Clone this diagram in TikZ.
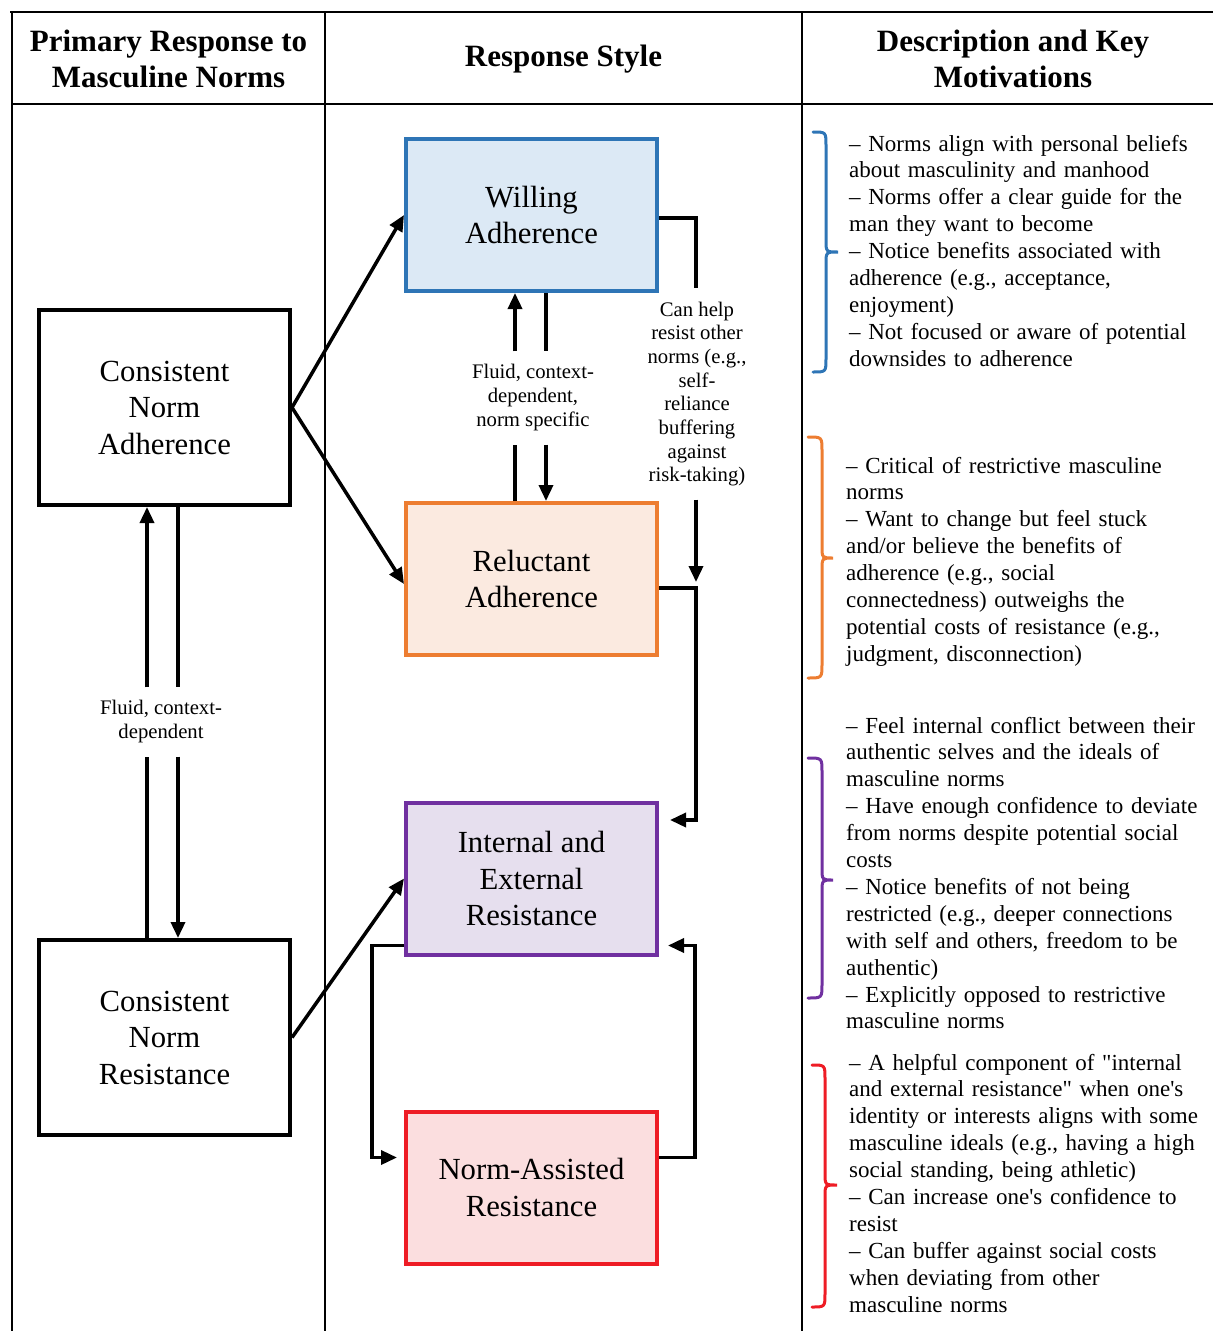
\documentclass[tikz,border=0pt]{standalone}
\usepackage{fontspec}
\setmainfont{Liberation Serif}
\usetikzlibrary{arrows.meta,calc}
\definecolor{wblue}{HTML}{2E75B6}
\definecolor{wbluefill}{HTML}{DCE9F5}
\definecolor{worange}{HTML}{ED7D31}
\definecolor{worangefill}{HTML}{FBEAE0}
\definecolor{wpurple}{HTML}{7030A0}
\definecolor{wpurplefill}{HTML}{E6DFEE}
\definecolor{wred}{HTML}{EE1C25}
\definecolor{wredfill}{HTML}{FBDEDF}
\newcommand{\curlybrace}[7]{% color, xend, xspine, xtip, ytop, ymid, ybot
  \draw[#1, line width=3pt, line cap=round]
    (#2,#5) .. controls (#3,#5) .. (#3,#5+14) -- (#3,#6-12)
    .. controls (#3,#6) .. (#4,#6) .. controls (#3,#6) .. (#3,#6+12)
    -- (#3,#7-14) .. controls (#3,#7) .. (#2,#7);}
\tikzset{
  tline/.style={line width=1.6pt, black},
  headtext/.style={align=center, inner sep=0, font=\fontsize{31}{36}\selectfont\bfseries},
  blackbox/.style={draw=black, line width=4pt, minimum width=251pt, minimum height=195pt,
    align=center, inner sep=0, font=\fontsize{30.7}{36.5}\selectfont},
  stylebox/.style={line width=4pt, minimum width=251pt, minimum height=152pt,
    align=center, inner sep=0, font=\fontsize{30.7}{36.5}\selectfont},
  smalllabel/.style={align=center, inner xsep=0, inner ysep=13pt, font=\fontsize{20.7}{24}\selectfont},
  desc/.style={anchor=base west, text width=370pt, align=left, inner sep=0,
    font=\fontsize{23}{26.9}\selectfont},
  conn/.style={line width=3.5pt, black},
  arr/.style={conn, -{Triangle[length=16pt,width=14pt]}},
}
\begin{document}
\begin{tikzpicture}[x=1pt,y=-1pt]
\useasboundingbox (0,0) rectangle (1213,1331);
% table
\draw[tline] (10,12) -- (1213,12);
\draw[tline] (12,104) -- (1213,104);
\draw[tline] (12,12) -- (12,1331);
\draw[tline] (325,12) -- (325,1331);
\draw[tline] (802,12) -- (802,1331);
% headers
\node[headtext] (h1) at (168.5,59) {Primary Response to\\Masculine Norms};
\node[headtext] (h2) at (563.5,59) {Response Style};
\node[headtext] (h3) at (1013,59) {Description and Key\\Motivations};
% boxes
\node[blackbox] (cna) at (164.5,407.5) {Consistent\\Norm\\Adherence};
\node[blackbox] (cnr) at (164.5,1037.5) {Consistent\\Norm\\Resistance};
\node[stylebox, draw=wblue, fill=wbluefill] (wa) at (531.5,215) {Willing\\Adherence};
\node[stylebox, draw=worange, fill=worangefill] (ra) at (531.5,579) {Reluctant\\Adherence};
\node[stylebox, draw=wpurple, fill=wpurplefill] (ier) at (531.5,878.5) {Internal and\\External\\Resistance};
\node[stylebox, draw=wred, fill=wredfill] (nar) at (531.5,1187.5) {Norm-Assisted\\Resistance};
% labels
\node[smalllabel] (lbl1) at (161,722) {Fluid, context-\\dependent};
\node[smalllabel] (lbl2) at (533,398) {Fluid, context-\\dependent,\\norm specific};
\node[smalllabel, font=\fontsize{20.7}{23.7}\selectfont] (lbl3) at (697,394) {Can help\\resist other\\norms (e.g.,\\self-\\reliance\\buffering\\against\\risk-taking)};
% helper coordinates
\coordinate (l1) at (147,0);
\coordinate (l2) at (178,0);
\coordinate (m1) at (515,0);
\coordinate (m2) at (546,0);
\coordinate (c1) at (696,0);
\coordinate (c2) at (670,820);
% diagonal arrows
\draw[arr] (cna.east) -- (wa.west);
\draw[arr] (cna.east) -- ([yshift=-5pt]ra.west);
\draw[arr] (cnr.east) -- (ier.west);
% CNA <-> CNR
\draw[conn] (cnr.north -| l1) -- (lbl1.south -| l1);
\draw[arr] (lbl1.north -| l1) -- (cna.south -| l1);
\draw[conn] (cna.south -| l2) -- (lbl1.north -| l2);
\draw[arr] (lbl1.south -| l2) -- (cnr.north -| l2);
% WA <-> RA
\draw[conn] (ra.north -| m1) -- (lbl2.south -| m1);
\draw[arr] (lbl2.north -| m1) -- (wa.south -| m1);
\draw[conn] (wa.south -| m2) -- (lbl2.north -| m2);
\draw[arr] (lbl2.south -| m2) -- (ra.north -| m2);
% WA -> right side
\draw[conn] ([yshift=-3pt]wa.east) -| (lbl3.north -| c1);
\draw[arr, shorten >=6pt] (lbl3.south -| c1) -- ([yshift=-9pt]ra.east -| c1);
% RA -> IER
\draw[arr] ([yshift=-9pt]ra.east) -- ([yshift=-9pt]ra.east -| c1) |- (c2);
% IER <-> NAR
\draw[arr, shorten >=7pt] ([yshift=11pt]ier.south west) -- ++(-32,0) |- ([yshift=30pt]nar.west);
\draw[arr, shorten >=9pt] ([yshift=30pt]nar.east) -- ++(36,0) |- ([yshift=11pt]ier.south east);
% braces
\curlybrace{wblue}{813}{826}{838}{132}{252}{372}
\curlybrace{worange}{808}{822}{833}{437}{558}{678}
\curlybrace{wpurple}{808}{822}{833}{758}{880}{998}
\curlybrace{wred}{812}{825}{837}{1065}{1185}{1307}
% descriptions
\node[desc] (d1) at (849,151) {– Norms align with personal beliefs\\about masculinity and manhood\\– Norms offer a clear guide for the\\man they want to become\\– Notice benefits associated with\\adherence (e.g., acceptance,\\enjoyment)\\– Not focused or aware of potential\\downsides to adherence};
\node[desc] (d2) at (846,473) {– Critical of restrictive masculine\\norms\\– Want to change but feel stuck\\and/or believe the benefits of\\adherence (e.g., social\\connectedness) outweighs the\\potential costs of resistance (e.g.,\\judgment, disconnection)};
\node[desc] (d3) at (846,733) {– Feel internal conflict between their\\authentic selves and the ideals of\\masculine norms\\– Have enough confidence to deviate\\from norms despite potential social\\costs\\– Notice benefits of not being\\restricted (e.g., deeper connections\\with self and others, freedom to be\\authentic)\\– Explicitly opposed to restrictive\\masculine norms};
\node[desc] (d4) at (849,1070) {– A helpful component of \textquotedbl internal\\and external resistance\textquotedbl{} when one\textquotesingle s\\identity or interests aligns with some\\masculine ideals (e.g., having a high\\social standing, being athletic)\\– Can increase one\textquotesingle s confidence to\\resist\\– Can buffer against social costs\\when deviating from other\\masculine norms};
\end{tikzpicture}
\end{document}
